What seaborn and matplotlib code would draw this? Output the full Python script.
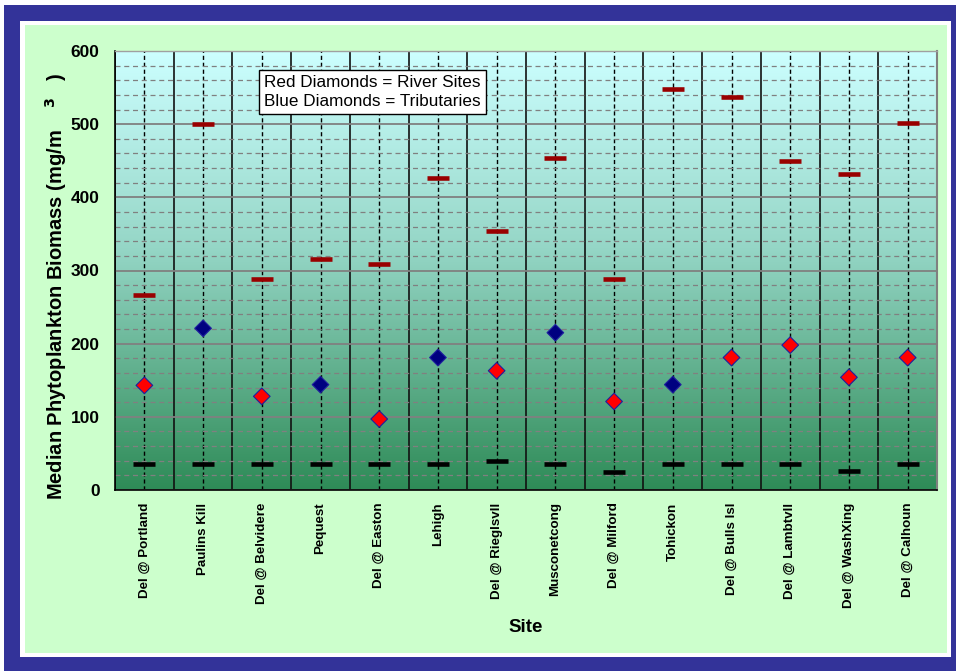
import numpy as np
import pandas as pd
import matplotlib
matplotlib.use("Agg")
import matplotlib.pyplot as plt
import seaborn as sns
from matplotlib.patches import Rectangle
from matplotlib.colors import LinearSegmentedColormap
from matplotlib.ticker import MultipleLocator

sites = ["Del @ Portland", "Paulins Kill", "Del @ Belvidere", "Pequest", "Del @ Easton",
         "Lehigh", "Del @ Rieglsvll", "Musconetcong", "Del @ Milford", "Tohickon",
         "Del @ Bulls Isl", "Del @ Lambtvll", "Del @ WashXing", "Del @ Calhoun"]
site_type = ["River", "Tributary", "River", "Tributary", "River", "Tributary", "River",
             "Tributary", "River", "Tributary", "River", "River", "River", "River"]
median_vals = [143, 221, 128, 144, 97, 181, 163, 215, 121, 144, 181, 198, 154, 181]
max_vals = [267, 500, 288, 316, 309, 426, 354, 454, 288, 548, 537, 449, 432, 502]
min_vals = [35, 35, 35, 35, 35, 35, 40, 35, 25, 35, 35, 35, 26, 35]
y_ticks = [0, 100, 200, 300, 400, 500, 600]

df = pd.DataFrame({"site": sites, "type": site_type, "median": median_vals,
                   "max": max_vals, "min": min_vals})

sns.set_style("white")
plt.rcParams["font.family"] = ["Liberation Sans", "DejaVu Sans"]
for k in ["text.color", "axes.labelcolor", "xtick.color", "ytick.color"]:
    plt.rcParams[k] = "black"

W, H = 956, 671
fig = plt.figure(figsize=(W / 100, H / 100), dpi=100)
fig.patch.set_facecolor("white")

# frame panels
fig.patches.append(Rectangle((4 / W, 0), 952 / W, 666 / H, transform=fig.transFigure,
                             fc="#333399", ec="none", zorder=-3))
fig.patches.append(Rectangle((20 / W, 14 / H), 931 / W, 636 / H, transform=fig.transFigure,
                             fc="white", ec="none", zorder=-2))
fig.patches.append(Rectangle((25 / W, 18 / H), 922 / W, 628 / H, transform=fig.transFigure,
                             fc="#CCFFCC", ec="none", zorder=-1))

rect = [115 / W, 1 - 490 / H, 822 / W, 439 / H]

# gradient background
bg = fig.add_axes(rect, zorder=0)
cmap = LinearSegmentedColormap.from_list(
    "g", [(0, "#CCFFFF"), (0.45, "#95D6C6"), (1, "#2E8B57")])
grad = np.linspace(0, 1, 256).reshape(-1, 1)
bg.imshow(grad, aspect="auto", cmap=cmap, extent=[0, 1, 0, 1], origin="upper")
bg.axis("off")

ax = fig.add_axes(rect, zorder=1)
ax.set_facecolor("none")

sns.scatterplot(data=df, x="site", y="max", marker="_", s=240, linewidth=3.3,
                color="#990000", edgecolor="#990000", legend=False, zorder=5, ax=ax)
sns.scatterplot(data=df, x="site", y="min", marker="_", s=240, linewidth=3.3,
                color="black", edgecolor="black", legend=False, zorder=5, ax=ax)
sns.scatterplot(data=df, x="site", y="median", hue="type",
                palette={"River": "#FF0000", "Tributary": "#000080"},
                marker="D", s=72, edgecolor="#1F1F9F", linewidth=0.8,
                legend=False, zorder=6, ax=ax)

n = len(sites)
ax.set_xlim(-0.5, n - 0.5)
ax.set_ylim(0, 600)
ax.set_xticks(range(n))
ax.set_xticklabels(sites, rotation=90, fontsize=9.6, fontweight="bold")
ax.set_xticks(np.arange(-0.5, n), minor=True)
ax.set_yticks(y_ticks)
ax.set_yticklabels([str(v) for v in y_ticks], fontsize=12.5, fontweight="bold")
ax.yaxis.set_minor_locator(MultipleLocator(20))

ax.grid(which="minor", axis="x", color="#111111", lw=1.2, ls="-", zorder=2)
ax.grid(which="major", axis="x", color="black", lw=1.0, ls=(0, (3, 2)), zorder=2)
ax.grid(which="major", axis="y", color="#808080", lw=1.3, ls="-", zorder=1)
ax.grid(which="minor", axis="y", color="#808080", lw=0.9, ls=(0, (4, 3)), zorder=1)
ax.set_axisbelow(True)

ax.tick_params(axis="x", which="major", length=0, pad=9)
ax.tick_params(axis="x", which="minor", length=5, width=1, direction="out", color="black")
ax.tick_params(axis="y", which="major", length=5, width=1, direction="out", color="black", pad=6)
ax.tick_params(axis="y", which="minor", length=0)

for side in ["left", "bottom"]:
    ax.spines[side].set_color("black")
    ax.spines[side].set_linewidth(1.2)
ax.spines["right"].set_color("#808080")
ax.spines["right"].set_linewidth(1.5)
ax.spines["top"].set_color("#A0A0A0")
ax.spines["top"].set_linewidth(1.0)

ax.set_xlabel("Site", fontsize=13.5, fontweight="bold", labelpad=8)
ax.set_ylabel("Median Phytoplankton Biomass (mg/m    $^{\\mathbf{3}}$   )",
              fontsize=14.5, fontweight="bold", labelpad=7)
ax.yaxis.set_label_coords(-0.056, 0.465)

ax.text(0.181, 0.945, "Red Diamonds = River Sites\nBlue Diamonds = Tributaries",
        transform=ax.transAxes, ha="left", va="top", fontsize=12.3, linespacing=1.3,
        zorder=10,
        bbox=dict(boxstyle="square,pad=0.3", fc="white", ec="black", lw=1))

fig.savefig("out.png", dpi=100)
